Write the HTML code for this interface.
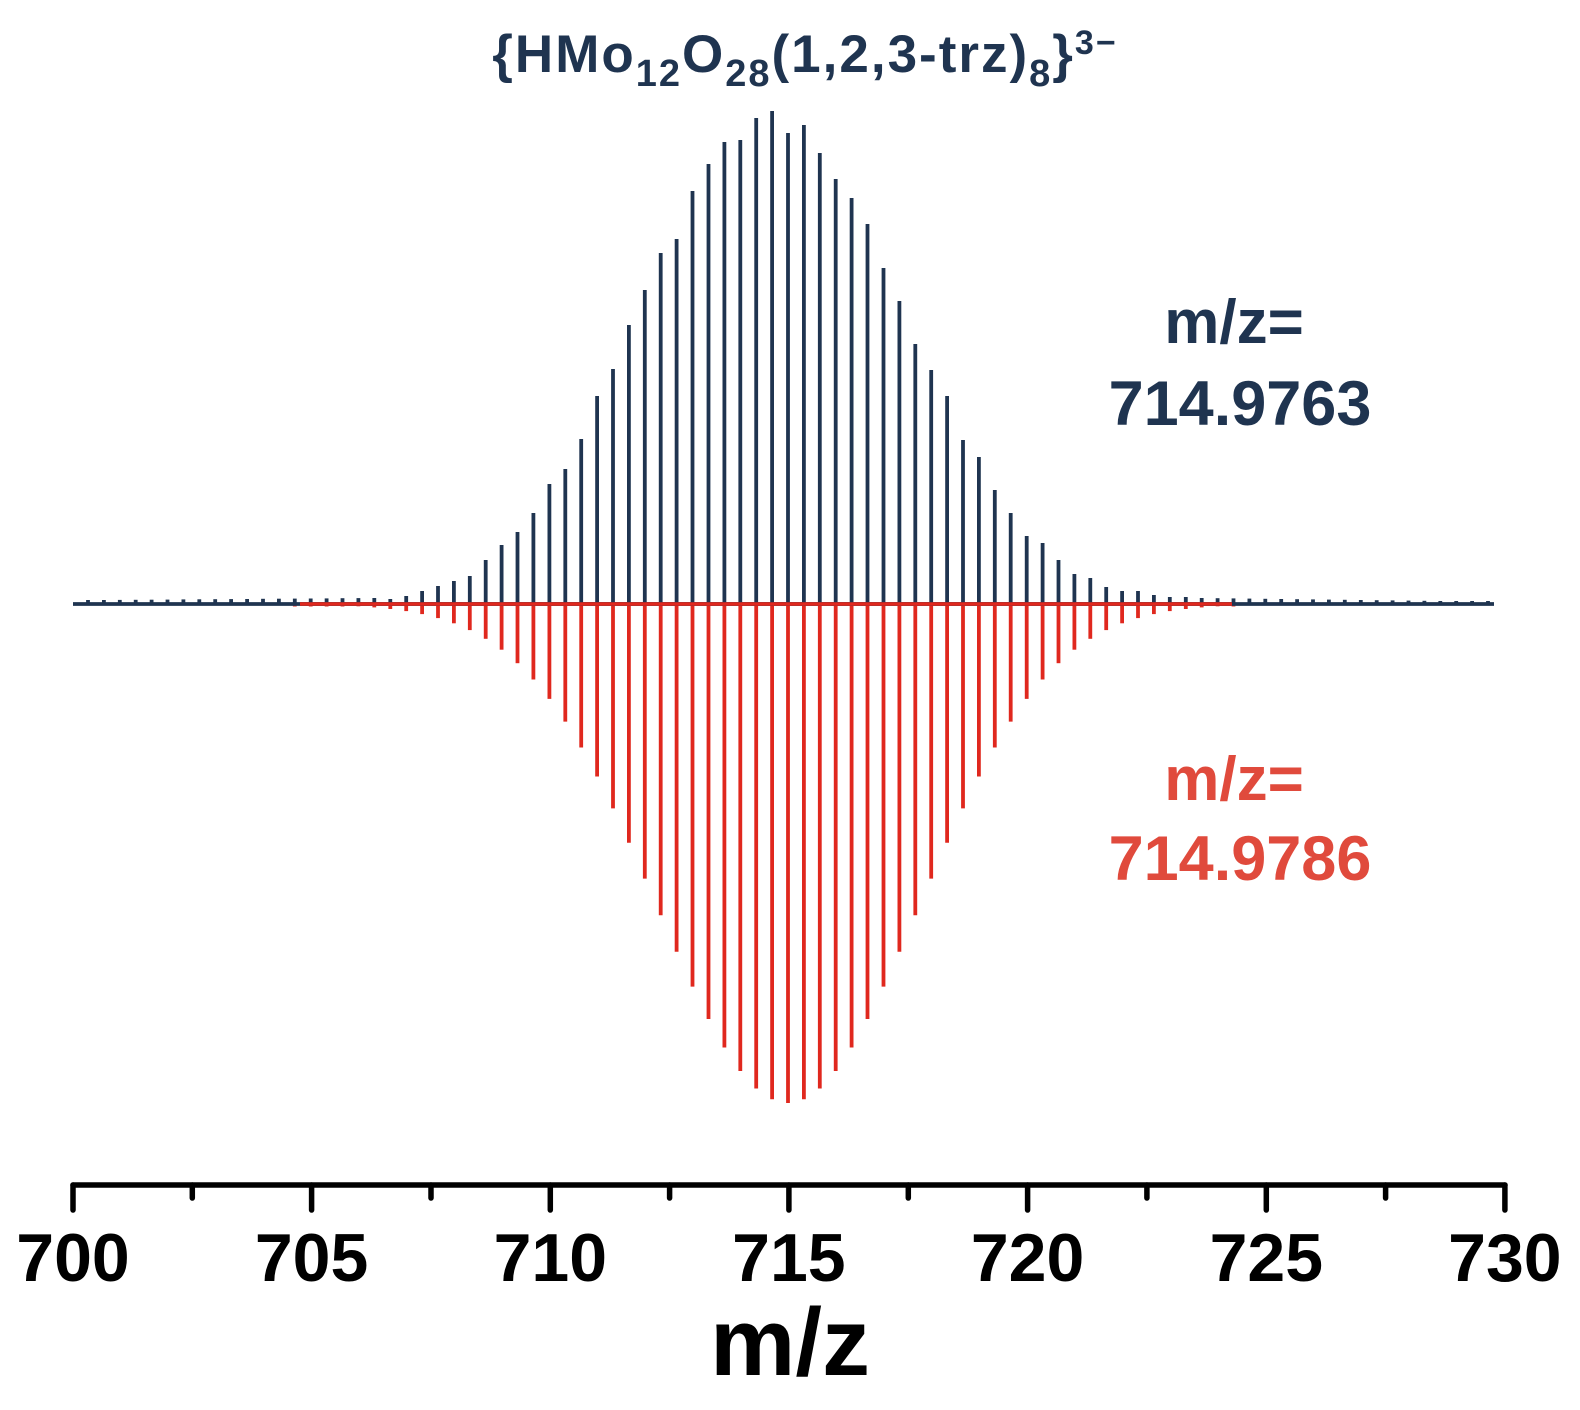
<!DOCTYPE html>
<html><head><meta charset="utf-8"><style>
html,body{margin:0;padding:0;background:#fff;}
svg{display:block;}
text{font-family:"Liberation Sans",sans-serif;font-weight:bold;}
</style></head><body>
<svg id="s" width="1580" height="1410" viewBox="0 0 1580 1410" xmlns="http://www.w3.org/2000/svg">
<g id="red" stroke="#e0281e" stroke-width="3.8" fill="none"></g>
<g id="blue" stroke="#1f3450" stroke-width="3.8" fill="none"></g>
<line x1="300" y1="604" x2="1232" y2="604" stroke="#e0281e" stroke-width="3.5"/>
<g id="axis" stroke="#000" stroke-width="5.5" stroke-linecap="round" fill="none">
<line x1="73" y1="1185" x2="1505" y2="1185"/>
</g>
<g id="labels" font-size="68" fill="#000" text-anchor="middle"></g>
<text x="790" y="1375" font-size="96" text-anchor="middle" fill="#000">m/z</text>
<text x="805" y="72" font-size="53" letter-spacing="2" text-anchor="middle" fill="#1f3450">{HMo<tspan font-size="38" dy="14">12</tspan><tspan dy="-14">O</tspan><tspan font-size="38" dy="14">28</tspan><tspan dy="-14">(1,2,3-trz)</tspan><tspan font-size="38" dy="14">8</tspan><tspan dy="-14">}</tspan><tspan font-size="34" dy="-18">3−</tspan></text>
<text x="1234" y="343" font-size="62" text-anchor="middle" fill="#1f3450">m/z=</text>
<text x="1240" y="425" font-size="63" text-anchor="middle" fill="#1f3450">714.9763</text>
<text x="1234" y="800" font-size="62" text-anchor="middle" fill="#e04a3c">m/z=</text>
<text x="1240" y="880" font-size="63" text-anchor="middle" fill="#e04a3c">714.9786</text>
</svg>
<script>
var NS="http://www.w3.org/2000/svg";
function ln(g,x1,y1,x2,y2){var l=document.createElementNS(NS,"line");l.setAttribute("x1",x1);l.setAttribute("y1",y1);l.setAttribute("x2",x2);l.setAttribute("y2",y2);g.appendChild(l);}
var blue=document.getElementById("blue"),red=document.getElementById("red"),axis=document.getElementById("axis"),labels=document.getElementById("labels");
var B=[599,596,591,586,581,576,560,545,532,513,484,469,439,396,369,325,290,253,239,191,164,142,140,118,111,133,125,153,179,198,224,268,301,344,370,396,440,457,490,513,536,543,560,574,578,587,591,591,595,597,597];
ln(blue,73,604,1494,604);
for(var k=-44;k<=44;k++){
  var x=788+15.91*k; if(x<80||x>1494)continue;
  var y;
  if(k>=-25&&k<=25)y=B[k+25]; else y=(k<0)?(598+Math.min(2,(-26-k)*0.12)):(598+Math.min(3,(k-26)*0.2));
  ln(blue,x.toFixed(1),604,x.toFixed(1),y.toFixed(1));
}
ln(red,300,604,1232,604);
for(var k=-31;k<=28;k++){
  var x=788+15.91*k;
  var d=499*Math.exp(-(x-788)*(x-788)/(2*131*131));
  if(d<2)d=2.5;
  ln(red,x.toFixed(1),604,x.toFixed(1),(604+d).toFixed(1));
}
var sc=47.73;
for(var i=0;i<=12;i++){
  var x=73+sc*2.5*i;
  ln(axis,x.toFixed(1),1185,x.toFixed(1),i%2==0?1210:1198);
  if(i%2==0){var t=document.createElementNS(NS,"text");t.setAttribute("x",x.toFixed(1));t.setAttribute("y",1281);t.textContent=700+i*2.5;labels.appendChild(t);}
}
</script>
</body></html>
